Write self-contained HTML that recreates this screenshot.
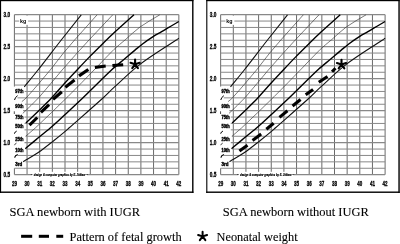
<!DOCTYPE html><html><head><meta charset="utf-8"><style>html,body{margin:0;padding:0;background:#fff;}body{width:400px;height:244px;overflow:hidden;}svg{display:block;filter:grayscale(1)}</style></head><body>
<svg width="400" height="244" viewBox="0 0 400 244">
<defs><g id="chart">
<g stroke="#888" stroke-width="1.0"><line x1="14.4" y1="14.65" x2="14.4" y2="86.55" stroke="#6a6a6a"/><line x1="14.4" y1="168.25" x2="14.4" y2="174.65" stroke="#6a6a6a"/><line x1="27.05" y1="14.65" x2="27.05" y2="174.65" stroke="#6a6a6a"/><line x1="39.7" y1="14.65" x2="39.7" y2="174.65" stroke="#6a6a6a"/><line x1="52.35" y1="14.65" x2="52.35" y2="174.65" stroke="#6a6a6a"/><line x1="65" y1="14.65" x2="65" y2="174.65" stroke="#6a6a6a"/><line x1="77.65" y1="14.65" x2="77.65" y2="174.65" stroke="#6a6a6a"/><line x1="90.3" y1="14.65" x2="90.3" y2="174.65" stroke="#6a6a6a"/><line x1="102.95" y1="14.65" x2="102.95" y2="174.65" stroke="#6a6a6a"/><line x1="115.6" y1="14.65" x2="115.6" y2="174.65" stroke="#6a6a6a"/><line x1="128.25" y1="14.65" x2="128.25" y2="174.65" stroke="#6a6a6a"/><line x1="140.9" y1="14.65" x2="140.9" y2="174.65" stroke="#6a6a6a"/><line x1="153.55" y1="14.65" x2="153.55" y2="174.65" stroke="#6a6a6a"/><line x1="166.2" y1="14.65" x2="166.2" y2="174.65" stroke="#6a6a6a"/><line x1="178.85" y1="14.65" x2="178.85" y2="174.65" stroke="#6a6a6a"/><line x1="14.4" y1="14.65" x2="178.85" y2="14.65" stroke-width="1.3"/><line x1="14.4" y1="21.05" x2="178.85" y2="21.05" stroke-width="1.0"/><line x1="14.4" y1="27.45" x2="178.85" y2="27.45" stroke-width="1.0"/><line x1="14.4" y1="33.85" x2="178.85" y2="33.85" stroke-width="1.0"/><line x1="14.4" y1="40.25" x2="178.85" y2="40.25" stroke-width="1.0"/><line x1="14.4" y1="46.65" x2="178.85" y2="46.65" stroke-width="1.3"/><line x1="14.4" y1="53.05" x2="178.85" y2="53.05" stroke-width="1.0"/><line x1="14.4" y1="59.45" x2="178.85" y2="59.45" stroke-width="1.0"/><line x1="14.4" y1="65.85" x2="178.85" y2="65.85" stroke-width="1.0"/><line x1="14.4" y1="72.25" x2="178.85" y2="72.25" stroke-width="1.0"/><line x1="14.4" y1="78.65" x2="178.85" y2="78.65" stroke-width="1.3"/><line x1="14.4" y1="85.05" x2="178.85" y2="85.05" stroke-width="1.0"/><line x1="24.6" y1="91.45" x2="178.85" y2="91.45" stroke-width="1.0"/><line x1="17.5" y1="97.85" x2="178.85" y2="97.85" stroke-width="1.0"/><line x1="25" y1="104.25" x2="178.85" y2="104.25" stroke-width="1.0"/><line x1="23.1" y1="110.65" x2="178.85" y2="110.65" stroke-width="1.3"/><line x1="24.5" y1="117.05" x2="178.85" y2="117.05" stroke-width="1.0"/><line x1="24.5" y1="123.45" x2="178.85" y2="123.45" stroke-width="1.0"/><line x1="24.5" y1="129.85" x2="178.85" y2="129.85" stroke-width="1.0"/><line x1="25.5" y1="136.25" x2="178.85" y2="136.25" stroke-width="1.0"/><line x1="24.5" y1="142.65" x2="178.85" y2="142.65" stroke-width="1.3"/><line x1="25.9" y1="149.05" x2="178.85" y2="149.05" stroke-width="1.0"/><line x1="17.8" y1="155.45" x2="178.85" y2="155.45" stroke-width="1.0"/><line x1="25.5" y1="161.85" x2="178.85" y2="161.85" stroke-width="1.0"/><line x1="14.4" y1="168.25" x2="178.85" y2="168.25" stroke-width="1.0"/><line x1="14.4" y1="174.65" x2="178.85" y2="174.65" stroke-width="1.3"/></g>
<rect x="19.2" y="15.7" width="8.9" height="9.2" fill="#fff"/>
<rect x="32" y="171.8" width="55" height="4.4" fill="#fff"/>
<text x="20" y="23.2" font-family="Liberation Sans" font-weight="bold" font-size="6" textLength="6.2" lengthAdjust="spacingAndGlyphs">kg</text>
<text x="33.8" y="175.9" font-family="Liberation Sans" font-style="italic" font-weight="bold" font-size="2.8" fill="#000" stroke="#000" stroke-width="0.15" textLength="51.5" lengthAdjust="spacingAndGlyphs">design &amp; computer graphics by E. Jitkiew</text>
<line x1="30.8" y1="174.5" x2="32.6" y2="174.5" stroke="#000" stroke-width="0.5"/>
<line x1="85.8" y1="174.5" x2="88" y2="174.5" stroke="#000" stroke-width="0.5"/>
<path d="M24.25,86.8 C28.83,81.2 33.51,75.68 38,70 C45.85,60.08 53.45,49.96 61.25,40 C67.86,31.56 74.58,23.2 81.25,14.8" fill="none" stroke="#111" stroke-width="1.1"/>
<path d="M21.85,101.6 C23.27,100.4 24.83,99.35 26.1,98 C30.63,93.15 34.91,88.04 39.25,83 C42.96,78.7 46.68,74.42 50.25,70 C54.73,64.45 58.9,58.64 63.4,53.1 C67.02,48.64 70.81,44.31 74.6,40 C82.04,31.55 89.6,23.2 97.1,14.8" fill="none" stroke="#333" stroke-width="0.65"/>
<path d="M22.75,113.4 C28.13,108.1 33.83,103.09 38.9,97.5 C46.95,88.62 54.22,79.04 62.1,70 C70.92,59.87 79.92,49.9 89,40 C96.8,31.5 104.83,23.2 112.75,14.8" fill="none" stroke="#333" stroke-width="0.65"/>
<path d="M25.9,123 C30.6,118.5 35.34,114.05 40,109.5 C43.88,105.71 47.79,101.95 51.5,98 C55.79,93.45 59.78,88.62 64,84 C68.45,79.12 72.97,74.31 77.5,69.5 C81.64,65.11 85.77,60.71 90,56.4 C95.1,51.21 100.31,46.11 105.5,41 C108.47,38.07 111.43,35.12 114.5,32.3 C120.93,26.39 127.5,20.63 134,14.8" fill="none" stroke="#000" stroke-width="1.35"/>
<path d="M25.9,136.1 C29.02,133.4 32.25,130.82 35.25,128 C46.2,117.71 57.06,107.31 67.75,96.75 C77.31,87.31 86.61,77.61 96,68 C102.03,61.83 107.8,55.39 114,49.4 C117.47,46.05 121.35,43.15 125,40 C130.01,35.68 134.66,30.87 140,27 C146.26,22.47 153.2,18.87 159.8,14.8" fill="none" stroke="#333" stroke-width="0.65"/>
<path d="M25.3,148.7 C28.7,145.83 32.08,142.94 35.5,140.1 C40.39,136.04 45.44,132.15 50.25,128 C54.94,123.95 59.45,119.7 64,115.5 C70.28,109.7 76.58,103.91 82.75,98 C92.58,88.58 102.06,78.79 112,69.5 C115.97,65.79 120.34,62.51 124.5,59 C128.01,56.04 131.48,53.04 135,50.1 C137.48,48.04 139.91,45.92 142.5,44 C145.95,41.45 149.5,39.02 153.1,36.7 C155.75,34.99 158.53,33.5 161.25,31.9 C163.33,30.67 165.42,29.43 167.5,28.2 C171.28,25.96 175.07,23.73 178.85,21.5" fill="none" stroke="#000" stroke-width="1.4"/>
<path d="M23.2,161.8 C28.47,158.53 33.91,155.52 39,152 C44.18,148.42 49.04,144.39 54,140.5 C57.38,137.85 60.71,135.15 64,132.4 C65.71,130.98 67.34,129.47 69,128 C80.34,118 91.78,108.12 103,98 C106.78,94.59 110.23,90.82 114,87.4 C122.56,79.62 130.81,71.39 140,64.4 C151.56,55.59 164.16,48.12 176.25,40 C177.11,39.42 177.98,38.87 178.85,38.3" fill="none" stroke="#111" stroke-width="1.1"/>
<text x="15.2" y="92.75" font-family="Liberation Sans" font-weight="bold" font-size="4.7" stroke="#000" stroke-width="0.4" textLength="8.2" lengthAdjust="spacingAndGlyphs">97th</text>
<text x="15.2" y="108.4" font-family="Liberation Sans" font-weight="bold" font-size="4.7" stroke="#000" stroke-width="0.4" textLength="8.2" lengthAdjust="spacingAndGlyphs">90th</text>
<text x="15.2" y="119.25" font-family="Liberation Sans" font-weight="bold" font-size="4.7" stroke="#000" stroke-width="0.4" textLength="8.2" lengthAdjust="spacingAndGlyphs">75th</text>
<text x="15.2" y="128.2" font-family="Liberation Sans" font-weight="bold" font-size="4.7" stroke="#000" stroke-width="0.4" textLength="8.2" lengthAdjust="spacingAndGlyphs">50th</text>
<text x="15.2" y="140.5" font-family="Liberation Sans" font-weight="bold" font-size="4.7" stroke="#000" stroke-width="0.4" textLength="8.2" lengthAdjust="spacingAndGlyphs">25th</text>
<text x="15.2" y="151.75" font-family="Liberation Sans" font-weight="bold" font-size="4.7" stroke="#000" stroke-width="0.4" textLength="8.2" lengthAdjust="spacingAndGlyphs">10th</text>
<text x="15.2" y="165.6" font-family="Liberation Sans" font-weight="bold" font-size="4.7" stroke="#000" stroke-width="0.4" textLength="6.9" lengthAdjust="spacingAndGlyphs">3rd</text>
<path d="M14.5,100 Q15.1,97.2 17.6,95.7" fill="none" stroke="#000" stroke-width="1.0"/>
<path d="M14.3,114 L14.3,111.3" fill="none" stroke="#000" stroke-width="0.7"/>
<path d="M14.4,133.7 Q14.9,131.6 16.7,131.1" fill="none" stroke="#000" stroke-width="1.0"/>
<path d="M14.5,145.2 Q15,143.5 16.5,143.1" fill="none" stroke="#000" stroke-width="0.7"/>
<path d="M14.6,157.6 Q15.1,155.1 17.8,154.6" fill="none" stroke="#000" stroke-width="1.2"/>
<text x="3.6" y="16.95" font-family="Liberation Sans" font-weight="bold" font-size="6.6" stroke="#000" stroke-width="0.3" textLength="6.6" lengthAdjust="spacingAndGlyphs">3.0</text>
<text x="3.6" y="48.95" font-family="Liberation Sans" font-weight="bold" font-size="6.6" stroke="#000" stroke-width="0.3" textLength="6.6" lengthAdjust="spacingAndGlyphs">2.5</text>
<text x="3.6" y="80.95" font-family="Liberation Sans" font-weight="bold" font-size="6.6" stroke="#000" stroke-width="0.3" textLength="6.6" lengthAdjust="spacingAndGlyphs">2.0</text>
<text x="3.6" y="112.95" font-family="Liberation Sans" font-weight="bold" font-size="6.6" stroke="#000" stroke-width="0.3" textLength="6.6" lengthAdjust="spacingAndGlyphs">1.5</text>
<text x="3.6" y="144.95" font-family="Liberation Sans" font-weight="bold" font-size="6.6" stroke="#000" stroke-width="0.3" textLength="6.6" lengthAdjust="spacingAndGlyphs">1.0</text>
<text x="3.6" y="176.95" font-family="Liberation Sans" font-weight="bold" font-size="6.6" stroke="#000" stroke-width="0.3" textLength="6.6" lengthAdjust="spacingAndGlyphs">0.5</text>
<text x="14.4" y="186.1" font-family="Liberation Sans" font-weight="bold" font-size="6.4" stroke="#000" stroke-width="0.3" text-anchor="middle" textLength="5.0" lengthAdjust="spacingAndGlyphs">29</text>
<text x="27.05" y="186.1" font-family="Liberation Sans" font-weight="bold" font-size="6.4" stroke="#000" stroke-width="0.3" text-anchor="middle" textLength="5.0" lengthAdjust="spacingAndGlyphs">30</text>
<text x="39.7" y="186.1" font-family="Liberation Sans" font-weight="bold" font-size="6.4" stroke="#000" stroke-width="0.3" text-anchor="middle" textLength="5.0" lengthAdjust="spacingAndGlyphs">31</text>
<text x="52.35" y="186.1" font-family="Liberation Sans" font-weight="bold" font-size="6.4" stroke="#000" stroke-width="0.3" text-anchor="middle" textLength="5.0" lengthAdjust="spacingAndGlyphs">32</text>
<text x="65" y="186.1" font-family="Liberation Sans" font-weight="bold" font-size="6.4" stroke="#000" stroke-width="0.3" text-anchor="middle" textLength="5.0" lengthAdjust="spacingAndGlyphs">33</text>
<text x="77.65" y="186.1" font-family="Liberation Sans" font-weight="bold" font-size="6.4" stroke="#000" stroke-width="0.3" text-anchor="middle" textLength="5.0" lengthAdjust="spacingAndGlyphs">34</text>
<text x="90.3" y="186.1" font-family="Liberation Sans" font-weight="bold" font-size="6.4" stroke="#000" stroke-width="0.3" text-anchor="middle" textLength="5.0" lengthAdjust="spacingAndGlyphs">35</text>
<text x="102.95" y="186.1" font-family="Liberation Sans" font-weight="bold" font-size="6.4" stroke="#000" stroke-width="0.3" text-anchor="middle" textLength="5.0" lengthAdjust="spacingAndGlyphs">36</text>
<text x="115.6" y="186.1" font-family="Liberation Sans" font-weight="bold" font-size="6.4" stroke="#000" stroke-width="0.3" text-anchor="middle" textLength="5.0" lengthAdjust="spacingAndGlyphs">37</text>
<text x="128.25" y="186.1" font-family="Liberation Sans" font-weight="bold" font-size="6.4" stroke="#000" stroke-width="0.3" text-anchor="middle" textLength="5.0" lengthAdjust="spacingAndGlyphs">38</text>
<text x="140.9" y="186.1" font-family="Liberation Sans" font-weight="bold" font-size="6.4" stroke="#000" stroke-width="0.3" text-anchor="middle" textLength="5.0" lengthAdjust="spacingAndGlyphs">39</text>
<text x="153.55" y="186.1" font-family="Liberation Sans" font-weight="bold" font-size="6.4" stroke="#000" stroke-width="0.3" text-anchor="middle" textLength="5.0" lengthAdjust="spacingAndGlyphs">40</text>
<text x="166.2" y="186.1" font-family="Liberation Sans" font-weight="bold" font-size="6.4" stroke="#000" stroke-width="0.3" text-anchor="middle" textLength="5.0" lengthAdjust="spacingAndGlyphs">41</text>
<text x="178.85" y="186.1" font-family="Liberation Sans" font-weight="bold" font-size="6.4" stroke="#000" stroke-width="0.3" text-anchor="middle" textLength="5.0" lengthAdjust="spacingAndGlyphs">42</text>
<rect x="0" y="0" width="193.4" height="1.2" fill="#000"/>
<rect x="0" y="0" width="1.1" height="193" fill="#000"/>
<rect x="192.1" y="0" width="1.4" height="193" fill="#000"/>
<rect x="0" y="191.5" width="193.4" height="1.4" fill="#000"/>
</g></defs>
<use href="#chart"/>
<use href="#chart" transform="translate(206.25,0)"/>
<g stroke="#000" stroke-width="3.1" stroke-linecap="butt"><line x1="29.5" y1="125.09" x2="37.3" y2="117.51"/><line x1="40.89" y1="112.38" x2="49.11" y2="104.72"/><line x1="53.08" y1="99.46" x2="61.82" y2="91.74"/><line x1="65.35" y1="87.18" x2="74.55" y2="80.07"/><line x1="79.02" y1="75.9" x2="88.33" y2="69.5"/><line x1="94.91" y1="67.5" x2="105.69" y2="66"/><line x1="112.4" y1="65.55" x2="123.2" y2="64.75"/><line x1="239.43" y1="151.01" x2="247.47" y2="145.19"/><line x1="252.54" y1="140.42" x2="261.16" y2="133.98"/><line x1="266.36" y1="129.19" x2="273.64" y2="123.31"/><line x1="279.46" y1="117.34" x2="287.44" y2="110.81"/><line x1="292.56" y1="106.04" x2="300.54" y2="99.56"/><line x1="305.68" y1="94.8" x2="313.07" y2="89.6"/><line x1="318.82" y1="82.29" x2="327.48" y2="76.51"/><line x1="332.01" y1="71.74" x2="335.49" y2="68.26"/></g>
<path d="M135.1,64.3 L135.1,59.5 M135.1,64.3 L139.67,62.82 M135.1,64.3 L137.92,68.18 M135.1,64.3 L132.28,68.18 M135.1,64.3 L130.53,62.82 " stroke="#000" stroke-width="2.1" stroke-linecap="round" fill="none"/><circle cx="135.1" cy="64.3" r="1.5"/>
<path d="M341.5,64.5 L341.5,59.7 M341.5,64.5 L346.07,63.02 M341.5,64.5 L344.32,68.38 M341.5,64.5 L338.68,68.38 M341.5,64.5 L336.93,63.02 " stroke="#000" stroke-width="2.1" stroke-linecap="round" fill="none"/><circle cx="341.5" cy="64.5" r="1.5"/>
<text x="9.6" y="216.2" font-family="Liberation Serif" font-size="12" stroke="#000" stroke-width="0.1" textLength="130.6" lengthAdjust="spacingAndGlyphs">SGA newborn with IUGR</text>
<text x="222.8" y="216.2" font-family="Liberation Serif" font-size="12" stroke="#000" stroke-width="0.1" textLength="146" lengthAdjust="spacingAndGlyphs">SGA newborn without IUGR</text>
<g stroke="#000" stroke-width="3">
<line x1="21.1" y1="236.3" x2="32.2" y2="236.3"/><line x1="38.8" y1="236.3" x2="49" y2="236.3"/><line x1="56.3" y1="236.3" x2="63.2" y2="236.3"/>
</g>
<text x="69.6" y="241" font-family="Liberation Serif" font-size="12" stroke="#000" stroke-width="0.1" textLength="112" lengthAdjust="spacingAndGlyphs">Pattern of fetal growth</text>
<path d="M202.6,236.4 L202.6,231.7 M202.6,236.4 L207.07,234.95 M202.6,236.4 L205.36,240.2 M202.6,236.4 L199.84,240.2 M202.6,236.4 L198.13,234.95 " stroke="#000" stroke-width="2.0" stroke-linecap="round" fill="none"/><circle cx="202.6" cy="236.4" r="1.5"/>
<text x="216.6" y="241" font-family="Liberation Serif" font-size="12" stroke="#000" stroke-width="0.1" textLength="81" lengthAdjust="spacingAndGlyphs">Neonatal weight</text>
</svg></body></html>
